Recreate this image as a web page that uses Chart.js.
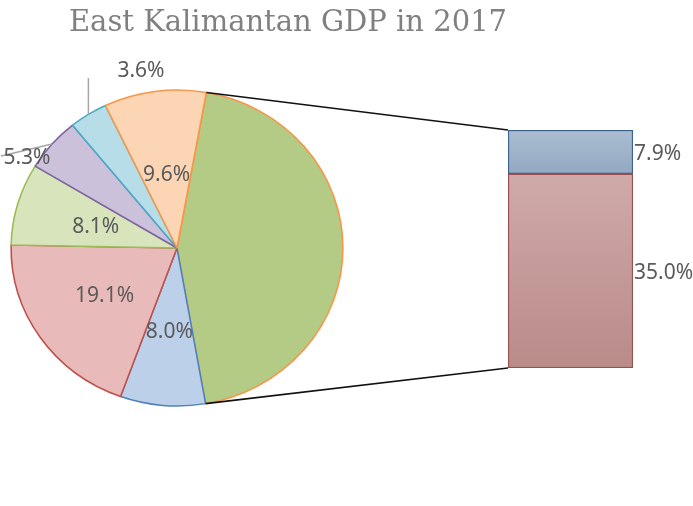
<!DOCTYPE html>
<html>
<head>
<title>East Kalimantan GDP in 2017</title>
<style>
  body { margin: 0; background: #fff; }
  #wrap { position: relative; width: 693px; height: 506px; }
  #wrap canvas { position: absolute; left: 0; top: 0; }
</style>
</head>
<body>
<div id="wrap">
  <canvas id="pieChart" width="693" height="506"></canvas>
  <canvas id="barChart" width="693" height="506"></canvas>
</div>
<script src="https://cdn.jsdelivr.net/npm/chart.js@4"></script>
<script>
// pie slices, clockwise from the "other" slice that is broken out into the bar
const pieLabels = ['Other', 'Sector 2', 'Sector 3', 'Sector 4', 'Sector 5', 'Sector 6', 'Sector 7'];
const pieValues = [42.9, 8.0, 19.1, 8.1, 5.3, 3.6, 9.6];
const pieFill = ['#B3CB85', '#BDD0E9', '#E8BAB9', '#D8E4BC', '#CCC1DA', '#B7DEE8', '#FCD5B4'];
const pieLine = ['#F79646', '#4F81BD', '#C0504D', '#9BBB59', '#8064A2', '#4BACC6', '#F79646'];

// the stacked bar (breakdown of "Other")
const barCategory = ['Other'];
const barLower = [35.0];
const barUpper = [7.9];

const chartTitle = 'East Kalimantan GDP in 2017';
const labelFont = '21px "Noto Sans"';
const labelColor = '#5a5a5a';
const stretchX = 1.05; // the reference pie is slightly wider than tall

// where each pie label sits: r = fraction of radius along slice middle,
// or a fixed spot outside with a leader line
const pieLabelPlace = [
  null,
  { r: 0.53 },
  { r: 0.53 },
  { r: 0.51 },
  { x: 27, y: 157, lead: { x: 1, y: 156 } },
  { x: 141, y: 70, lead: { up: 78 } },
  { r: 0.47 }
];

function arcPoint(arc, angle, f) {
  return {
    x: arc.x + Math.cos(angle) * arc.outerRadius * f * stretchX,
    y: arc.y + Math.sin(angle) * arc.outerRadius * f
  };
}

const pieStretch = {
  id: 'pieStretch',
  beforeDatasetsDraw(chart) {
    const arc = chart.getDatasetMeta(0).data[0];
    const ctx = chart.ctx;
    ctx.save();
    ctx.translate(arc.x, arc.y);
    ctx.scale(stretchX, 1);
    ctx.translate(-arc.x, -arc.y);
  },
  afterDatasetsDraw(chart) {
    chart.ctx.restore();
  }
};

const pieText = {
  id: 'pieText',
  afterDraw(chart) {
    const ctx = chart.ctx;
    const arcs = chart.getDatasetMeta(0).data;
    ctx.save();
    // title
    ctx.font = '29px "DejaVu Serif"';
    ctx.fillStyle = '#808080';
    ctx.textAlign = 'center';
    ctx.textBaseline = 'alphabetic';
    ctx.fillText(chartTitle, 288, 31);

    ctx.font = labelFont;
    ctx.fillStyle = labelColor;
    ctx.textBaseline = 'middle';
    arcs.forEach((arc, i) => {
      const place = pieLabelPlace[i];
      if (!place) return;
      const mid = (arc.startAngle + arc.endAngle) / 2;
      const text = pieValues[i].toFixed(1) + '%';
      if (place.r) {
        const p = arcPoint(arc, mid, place.r);
        ctx.fillText(text, p.x, p.y + 1);
      } else {
        const e = arcPoint(arc, mid, 1);
        ctx.strokeStyle = '#A6A6A6';
        ctx.lineWidth = 1.5;
        ctx.beginPath();
        ctx.moveTo(e.x, e.y);
        if (place.lead.up) ctx.lineTo(e.x, place.lead.up);
        else ctx.lineTo(place.lead.x, place.lead.y);
        ctx.stroke();
        ctx.fillText(text, place.x, place.y + 1);
      }
    });
    ctx.restore();
  }
};

const pieChart = new Chart(document.getElementById('pieChart'), {
  type: 'pie',
  data: {
    labels: pieLabels,
    datasets: [{
      data: pieValues,
      backgroundColor: pieFill,
      borderColor: pieLine,
      borderWidth: 1.5,
      hoverOffset: 0
    }]
  },
  options: {
    responsive: false,
    animation: false,
    events: [],
    rotation: 10.2,
    radius: 158,
    layout: { padding: { left: 1, right: 340, top: 60, bottom: 70 } },
    plugins: {
      legend: { display: false },
      tooltip: { enabled: false },
      title: { display: false }
    }
  },
  plugins: [pieStretch, pieText]
});

function segGradient(ctx, lo, hi, top, bottom) {
  const chart = ctx.chart;
  if (!chart.chartArea || !chart.scales.y) return bottom;
  const y = chart.scales.y;
  const g = chart.ctx.createLinearGradient(0, y.getPixelForValue(hi), 0, y.getPixelForValue(lo));
  g.addColorStop(0, top);
  g.addColorStop(1, bottom);
  return g;
}

const connectors = {
  id: 'connectors',
  afterDatasetsDraw(chart) {
    const ctx = chart.ctx;
    const other = pieChart.getDatasetMeta(0).data[0];
    const lowBar = chart.getDatasetMeta(0).data[0];
    const upBar = chart.getDatasetMeta(1).data[0];
    const left = lowBar.x - lowBar.width / 2;
    const a = arcPoint(other, other.startAngle, 1);
    const b = arcPoint(other, other.endAngle, 1);
    ctx.save();
    ctx.strokeStyle = '#111';
    ctx.lineWidth = 1.6;
    ctx.beginPath();
    ctx.moveTo(a.x, a.y);
    ctx.lineTo(left, upBar.y);
    ctx.moveTo(b.x, b.y);
    ctx.lineTo(left, lowBar.base);
    ctx.stroke();

    ctx.font = labelFont;
    ctx.fillStyle = labelColor;
    ctx.textAlign = 'left';
    ctx.textBaseline = 'middle';
    [[lowBar, barLower[0]], [upBar, barUpper[0]]].forEach(([bar, v]) => {
      ctx.fillText(v.toFixed(1) + '%', bar.x + bar.width / 2 + 1, (bar.y + bar.base) / 2 + 2);
    });
    ctx.restore();
  }
};

new Chart(document.getElementById('barChart'), {
  type: 'bar',
  data: {
    labels: barCategory,
    datasets: [{
      data: barLower,
      backgroundColor: c => segGradient(c, 0, barLower[0], '#CFAAA9', '#B98B89'),
      borderColor: '#9B4F4E',
      borderWidth: 1.5,
      borderSkipped: false
    }, {
      data: barUpper,
      backgroundColor: c => segGradient(c, barLower[0], barLower[0] + barUpper[0], '#AABDD1', '#93A8C1'),
      borderColor: '#3C6291',
      borderWidth: 1.5,
      borderSkipped: false
    }]
  },
  options: {
    responsive: false,
    animation: false,
    events: [],
    barPercentage: 1,
    categoryPercentage: 1,
    layout: { padding: { left: 508, right: 60, top: 130, bottom: 138 } },
    plugins: { legend: { display: false }, tooltip: { enabled: false } },
    scales: {
      x: { stacked: true, display: false },
      y: { stacked: true, display: false, min: 0, max: 42.9 }
    }
  },
  plugins: [connectors]
});
</script>
</body>
</html>
